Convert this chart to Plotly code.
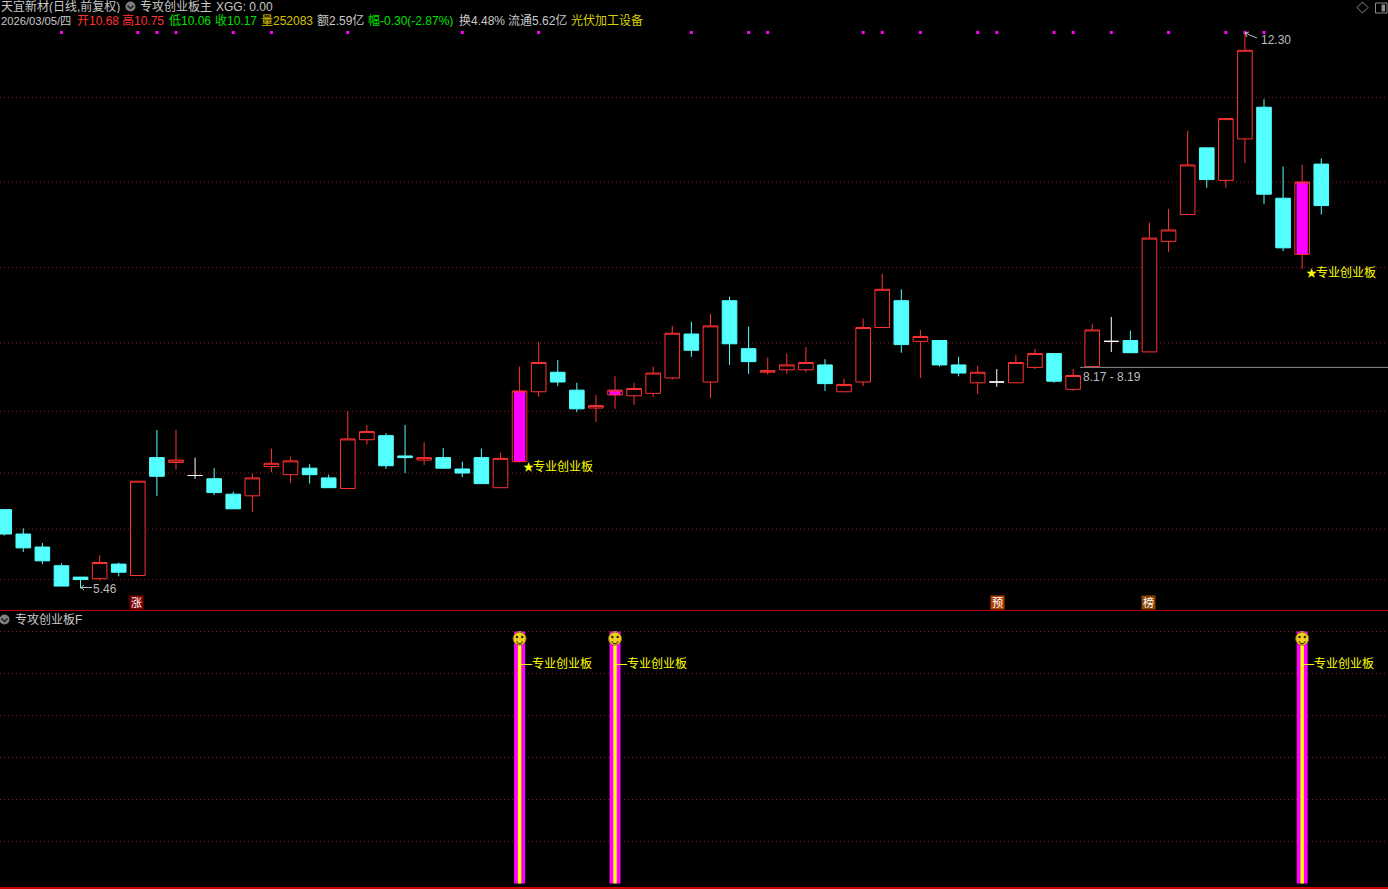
import plotly.graph_objects as go

# ---- data ----
open_ = [6.43,6.13,5.97,5.74,5.60,5.58,5.76,5.62,7.07,7.01,6.85,6.81,6.62,6.60,6.96,6.86,6.94,6.82,6.69,7.29,7.34,7.09,7.04,7.07,6.93,7.07,6.70,7.02,7.88,8.12,7.90,7.68,7.84,7.83,7.86,8.05,8.59,8.00,9.00,8.41,8.12,8.15,8.15,8.21,7.88,8.00,8.67,9.00,8.50,8.51,8.21,7.99,8.00,7.99,8.18,8.35,7.91,8.19,8.50,8.51,8.37,9.73,10.06,10.88,10.48,10.99,11.38,10.26,9.57,10.68]
close = [6.13,5.96,5.80,5.49,5.57,5.78,5.66,6.78,6.84,7.04,6.85,6.64,6.44,6.82,7.00,7.03,6.86,6.70,7.30,7.39,6.97,7.07,7.07,6.94,6.88,6.75,7.06,7.89,8.24,8.00,7.67,7.71,7.90,7.92,8.11,8.60,8.39,8.69,8.47,8.25,8.14,8.21,8.24,7.98,7.97,8.67,9.14,8.46,8.56,8.21,8.11,8.12,8.00,8.24,8.35,8.01,8.08,8.64,8.50,8.36,9.77,9.87,10.67,10.49,11.24,12.08,10.31,9.65,10.46,10.17]
high  = [6.43,6.20,6.02,5.77,5.60,5.87,5.78,6.78,7.41,7.41,7.07,6.94,6.65,6.87,7.18,7.08,6.99,6.86,7.64,7.47,7.37,7.47,7.26,7.19,7.02,7.18,7.13,8.19,8.49,8.27,7.99,7.84,8.07,7.99,8.19,8.69,8.74,8.84,9.05,8.68,8.30,8.35,8.43,8.28,8.04,8.78,9.33,9.14,8.64,8.51,8.31,8.20,8.16,8.33,8.41,8.35,8.16,8.71,8.80,8.63,9.96,10.13,11.09,10.88,11.24,12.30,11.48,10.65,10.67,10.75]
low   = [6.11,5.91,5.76,5.49,5.46,5.56,5.61,5.62,6.60,6.92,6.81,6.61,6.44,6.40,6.89,6.76,6.75,6.70,6.69,7.23,6.93,6.88,6.98,6.93,6.83,6.75,6.70,7.01,7.82,7.95,7.63,7.51,7.67,7.72,7.82,8.03,8.31,7.80,8.21,8.10,8.09,8.10,8.12,7.89,7.88,7.95,8.67,8.36,8.05,8.19,8.07,7.85,7.94,7.99,8.16,7.99,7.89,8.19,8.37,8.36,8.37,9.60,10.06,10.39,10.39,10.69,10.19,9.61,9.39,10.06]
signal_idx = [27, 32, 68]                # pink body candles, also the lower-pane bars
doji_idx = [10, 52, 58]                  # white cross candles
dot_idx = [3,7,8,9,12,14,18,24,28,36,39,40,45,46,48,51,52,55,56,58,61,64,65,66]
grid_main = [11.50,10.46,9.41,8.48,7.64,6.88,6.19,5.57]
grid_sub = [1,2,3,4,5,6]
sub_value = 6
sig_label = "专业创业板"
gap_low, gap_high = 8.17, 8.19

FONT = "Liberation Sans, Noto Sans CJK SC"
RED, CYAN, MAG, YEL = "#ff3232", "#54ffff", "#ff00ff", "#ffff00"
GRID = "#8c1c1c"
W, H = 1388, 889
XSTEP, X0 = 19.088, 4.2
xr = [(0 - X0) / XSTEP, (W - X0) / XSTEP]
K = 0.0123
def price(px): return 12.6986 - K * px
main_top, main_bot = 0, 611
sub_top, sub_bot = 611, 888

idx = list(range(len(close)))
special = set(signal_idx) | set(doji_idx)
up = [i for i in idx if close[i] >= open_[i] and i not in special]
dn = [i for i in idx if close[i] < open_[i] and i not in special]

def candles(ids, line, fill):
    return go.Candlestick(
        x=ids, open=[open_[i] for i in ids], high=[high[i] for i in ids],
        low=[low[i] for i in ids], close=[close[i] for i in ids],
        increasing=dict(line=dict(color=line, width=1), fillcolor=fill),
        decreasing=dict(line=dict(color=line, width=1), fillcolor=fill),
        whiskerwidth=0, showlegend=False, hoverinfo="skip",
        xaxis="x", yaxis="y")

fig = go.Figure()
fig.add_trace(go.Bar(x=signal_idx, y=[close[i] - open_[i] for i in signal_idx],
    base=[open_[i] for i in signal_idx], width=0.59, marker=dict(color=MAG, line=dict(width=0)),
    xaxis="x", yaxis="y", showlegend=False, hoverinfo="skip"))
fig.add_trace(candles(up, RED, "#000000"))
fig.add_trace(candles(dn, CYAN, CYAN))
fig.add_trace(candles(signal_idx, RED, "rgba(0,0,0,0)"))
fig.add_trace(candles(doji_idx, "#ffffff", "#ffffff"))

# dots along the top
fig.add_trace(go.Scatter(x=dot_idx, y=[price(32.5)] * len(dot_idx), mode="markers",
    marker=dict(symbol="square", size=3, color=MAG), showlegend=False, hoverinfo="skip"))

# lower pane bars
fig.add_trace(go.Bar(x=signal_idx, y=[sub_value] * 3, width=0.576, marker=dict(color=MAG, line=dict(width=0)),
    xaxis="x2", yaxis="y2", showlegend=False, hoverinfo="skip"))
fig.add_trace(go.Bar(x=signal_idx, y=[sub_value] * 3, width=0.18, marker=dict(color=YEL, line=dict(width=0)),
    xaxis="x2", yaxis="y2", showlegend=False, hoverinfo="skip"))
fig.update_layout(barmode="overlay")
fig.add_trace(go.Scatter(x=signal_idx, y=[5.83] * 3, mode="markers",
    marker=dict(symbol="circle", size=13, color="#f2cf1d", line=dict(color="#8a7010", width=1)),
    xaxis="x2", yaxis="y2", showlegend=False, hoverinfo="skip"))
for dx in (-0.14, 0.14):
    fig.add_trace(go.Scatter(x=[s + dx for s in signal_idx], y=[5.87] * 3, mode="markers",
        marker=dict(symbol="circle", size=2.4, color="#222200"), xaxis="x2", yaxis="y2",
        showlegend=False, hoverinfo="skip"))
mx, my = [], []
for s in signal_idx:
    mx += [s - 0.16, s - 0.07, s + 0.07, s + 0.16, None]
    my += [5.77, 5.71, 5.71, 5.77, None]
fig.add_trace(go.Scatter(x=mx, y=my, mode="lines", line=dict(color="#222200", width=1),
    xaxis="x2", yaxis="y2", showlegend=False, hoverinfo="skip"))

shapes = []
for g in grid_main:
    shapes.append(dict(type="line", xref="paper", x0=0, x1=1, yref="y", y0=g, y1=g,
                       line=dict(color=GRID, width=1, dash="1px 3px"), layer="below"))
for g in grid_sub:
    shapes.append(dict(type="line", xref="paper", x0=0, x1=1, yref="y2", y0=g, y1=g,
                       line=dict(color=GRID, width=1, dash="1px 3px"), layer="below"))
# pane separators
shapes.append(dict(type="line", xref="paper", x0=0, x1=1, yref="paper", y0=1 - 610.5 / H, y1=1 - 610.5 / H,
                   line=dict(color="#c00000", width=1)))
shapes.append(dict(type="line", xref="paper", x0=0, x1=1, yref="paper", y0=1 - 888 / H, y1=1 - 888 / H,
                   line=dict(color="#c80000", width=2)))
# gap line from candle 57 to the right edge
shapes.append(dict(type="line", xref="x", x0=56.36, x1=xr[1], yref="y",
                   y0=(gap_low + gap_high) / 2, y1=(gap_low + gap_high) / 2,
                   line=dict(color="#8c8c8c", width=1)))

ann = []
def text(px, py, s, color, size=12, anchor="left"):
    ann.append(dict(xref="paper", yref="paper", x=(px - 1) / W, y=1 - py / H, text=s, showarrow=False,
                    xanchor=anchor, yanchor="middle", align="left", height=13,
                    font=dict(family=FONT, size=size, color=color), borderpad=0))

GR, LG = "#c8c8c8", "#bcbcbc"
text(1, 6.5, "天宜新材(日线,前复权)", GR)
text(140, 6.5, "专攻创业板主", GR)
text(216, 6.5, "XGG: 0.00", GR)
text(1, 20.5, "2026/03/05/四", GR, 11.2)
text(77, 20.5, "开10.68", RED)
text(122, 20.5, "高10.75", RED)
text(169, 20.5, "低10.06", "#00e000")
text(215, 20.5, "收10.17", "#00e000")
text(261, 20.5, "量252083", "#d8c000")
text(317, 20.5, "额2.59亿", GR)
text(368, 20.5, "幅-0.30(-2.87%)", "#00e000")
text(459, 20.5, "换4.48%", GR)
text(508, 20.5, "流通5.62亿", GR)
text(571, 20.5, "光伏加工设备", "#d8d000")
text(14.5, 619, "专攻创业板F", GR)

# price notes
text(93, 588, "5.46", LG)
text(1261, 39, "12.30", LG)
text(1083, 377, "8.17 - 8.19", LG)
for px, py in [(523, 466.5), (1306, 272.5)]:
    text(px, py, "★", YEL, 11)
    text(px + 10, py, sig_label, YEL)
for s in signal_idx:
    ann.append(dict(xref="x2", yref="paper", x=s, y=1 - 663.5 / H, text="—" + sig_label, showarrow=False,
                    xanchor="left", yanchor="middle", xshift=-2, height=13,
                    font=dict(family=FONT, size=12, color=YEL)))
for px, py, s, c in [(136.5, 602.5, "涨", "#800000"), (997.5, 602.5, "预", "#b04000"), (1148.5, 602.5, "榜", "#8b4500")]:
    ann.append(dict(xref="paper", yref="paper", x=px / W, y=1 - py / H, text=s, showarrow=False,
                    xanchor="center", yanchor="middle", bgcolor=c, borderpad=0, width=13, height=13,
                    font=dict(family=FONT, size=11, color="#ffffff")))

def pline(pts, color, width=1):
    d = "M " + " L ".join(f"{x / W} {1 - y / H}" for x, y in pts)
    shapes.append(dict(type="path", xref="paper", yref="paper", path=d, line=dict(color=color, width=width)))

# header glyph circles
for cx, cy in [(130.5, 6.5), (4.5, 619.5)]:
    shapes.append(dict(type="circle", xref="paper", yref="paper", x0=(cx - 5) / W, x1=(cx + 5) / W,
                       y0=1 - (cy + 5) / H, y1=1 - (cy - 5) / H, fillcolor="#808080", line=dict(width=0)))
    pline([(cx - 3, cy - 1), (cx, cy + 2), (cx + 3, cy - 1)], "#1c1c1c", 1.5)

# little arrows to the extreme labels
pline([(92, 587.5), (81, 587.5)], LG)
pline([(84, 585), (81, 587.5), (84, 590)], LG)
pline([(1257, 38), (1245, 33)], LG)
pline([(1249, 32), (1245, 33), (1247, 37)], LG)
# window buttons
pline([(1357, 7.5), (1362.5, 2), (1368, 7.5), (1362.5, 13), (1357, 7.5)], "#8a8a8a")
shapes.append(dict(type="rect", xref="paper", yref="paper", x0=1375.5 / W, x1=1387 / W, y0=1 - 13 / H, y1=1 - 3 / H,
                   line=dict(color="#8a8a8a", width=1)))
shapes.append(dict(type="rect", xref="paper", yref="paper", x0=1381.5 / W, x1=1385 / W, y0=1 - 11.5 / H, y1=1 - 4.5 / H,
                   fillcolor="#8a8a8a", line=dict(width=0)))

fig.update_layout(
    width=W, height=H, margin=dict(l=0, r=0, t=0, b=0),
    paper_bgcolor="#000000", plot_bgcolor="#000000",
    showlegend=False, boxgap=0.235, boxgroupgap=0, boxmode="overlay",
    xaxis=dict(range=xr, domain=[0, 1], visible=False, rangeslider=dict(visible=False), anchor="y", fixedrange=True),
    xaxis2=dict(range=xr, domain=[0, 1], visible=False, anchor="y2", fixedrange=True),
    yaxis=dict(range=[price(main_bot), price(main_top)], domain=[1 - main_bot / H, 1 - main_top / H], visible=False, anchor="x"),
    yaxis2=dict(range=[(883.5 - sub_bot) / 42, (883.5 - sub_top) / 42], domain=[1 - sub_bot / H, 1 - sub_top / H], visible=False, anchor="x2"),
    shapes=shapes, annotations=ann,
)
fig.write_html("out.html", config=dict(displayModeBar=False),
               post_script="document.body.style.margin='0';document.body.style.background='#000';document.documentElement.style.overflow='hidden';")
